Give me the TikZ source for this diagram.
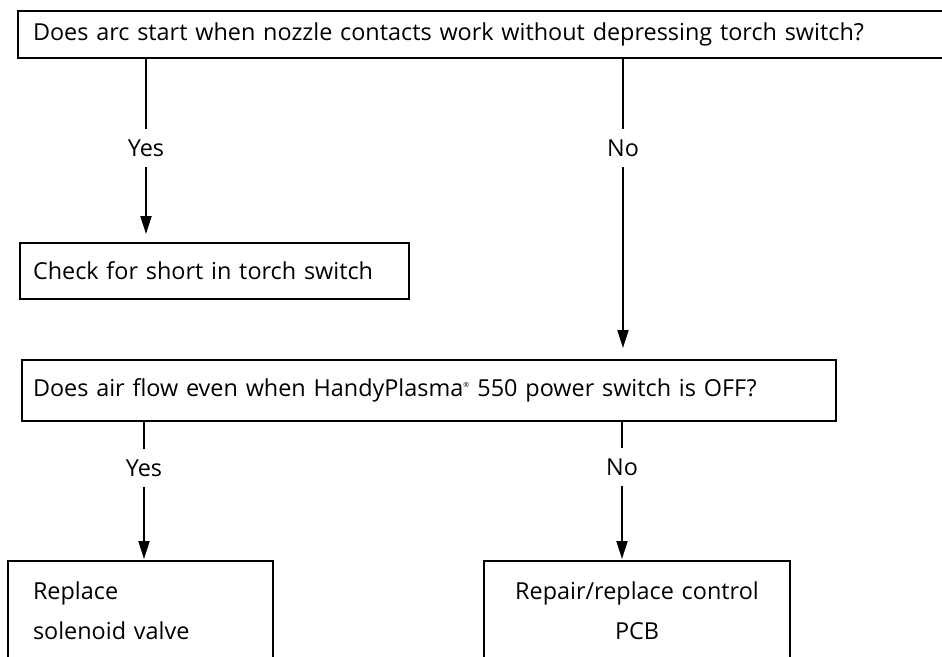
\documentclass[tikz,border=0pt]{standalone}
\usepackage{fontspec}
\setmainfont{Open Sans}
\usetikzlibrary{arrows.meta}
\begin{document}
\begin{tikzpicture}[x=1pt,y=-1pt,
  every node/.style={font=\fontsize{23.4}{40}\selectfont},
  box/.style={draw, line width=2pt, anchor=north west, inner ysep=0pt},
  lbl/.style={inner sep=0pt, minimum height=38pt},
  link/.style={line width=2pt},
  arrow/.style={link, -{Triangle[width=11pt,length=18pt]}}]
\useasboundingbox (0,0) rectangle (942,656);
\clip (0,0) rectangle (942,656);

% question and action boxes
\node[box, align=left, minimum width=943pt, minimum height=47pt,
      text width=913pt, inner xsep=15pt] (q1) at (17,10)
  {Does arc start when nozzle contacts work without depressing torch switch?};
\node[box, align=left, minimum width=389pt, minimum height=56pt,
      text width=363pt, inner xsep=13pt] (check) at (19,242)
  {Check for short in torch switch};
\node[box, align=left, minimum width=814pt, minimum height=61pt,
      text width=792pt, inner xsep=11pt] (q2) at (21,359)
  {Does air flow even when HandyPlasma\textsuperscript{\fontsize{7}{7}\selectfont ®} 550 power switch is OFF?};
\node[box, align=left, minimum width=265pt, minimum height=100pt,
      text width=215pt, inner xsep=25pt] (replace) at (7,560)
  {Replace\\solenoid valve};
\node[box, align=center, minimum width=306pt, minimum height=100pt,
      text width=286pt, inner xsep=10pt] (repair) at (483,560)
  {Repair/replace control\\PCB};

% branch labels
\node[lbl] (yes1) at (146,148) {Yes};
\node[lbl] (no1)  at (623,148) {No};
\node[lbl] (yes2) at (144,468) {Yes};
\node[lbl] (no2)  at (622,467) {No};

% connectors
\draw[link]  (q1.south -| yes1) -- (yes1);
\draw[arrow, shorten >=8pt] (yes1) -- (yes1 |- check.north);
\draw[link]  (q1.south -| no1) -- (no1);
\draw[arrow, shorten >=11pt] (no1) -- (no1 |- q2.north);
\draw[link]  (q2.south -| yes2) -- (yes2);
\draw[arrow, shorten >=1pt] (yes2) -- (yes2 |- replace.north);
\draw[link]  (q2.south -| no2) -- (no2);
\draw[arrow, shorten >=1pt] (no2) -- (no2 |- repair.north);
\end{tikzpicture}
\end{document}
